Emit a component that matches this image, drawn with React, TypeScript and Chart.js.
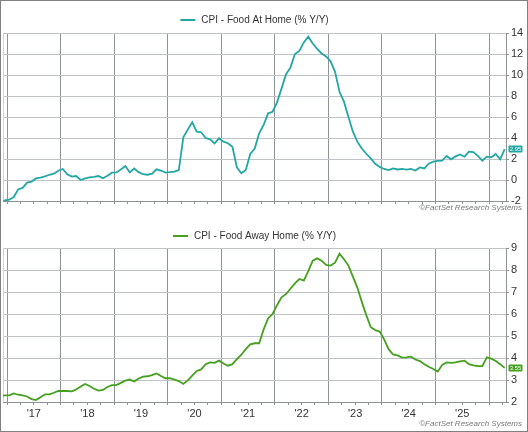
import { useEffect, useRef } from "react";
import Chart from "chart.js/auto";

// monthly series, Nov 2016 .. Apr 2026
const FIRST_YEAR = 2016;
const FIRST_MONTH = 11;

const foodAtHome = [
  -2.1, -1.95, -1.88, -1.62, -0.9, -0.75, -0.25, -0.15, 0.15, 0.22, 0.35, 0.5, 0.6,
  0.88, 1.05, 0.55, 0.32, 0.38, 0.0, 0.16, 0.25, 0.3, 0.38, 0.16, 0.4,
  0.7, 0.72, 1.0, 1.33, 0.73, 1.1, 0.75, 0.55, 0.5, 0.6, 1.02, 0.9,
  0.7, 0.74, 0.8, 0.95, 4.07, 4.8, 5.5, 4.6, 4.55, 4.0, 3.87, 3.49,
  3.97, 3.65, 3.5, 3.17, 1.21, 0.64, 0.95, 2.48, 3.0, 4.45, 5.24, 6.35,
  6.5, 7.4, 8.7, 10.05, 10.7, 12.0, 12.29, 13.1, 13.65, 13.0, 12.48, 12.05,
  11.77, 11.3, 10.3, 8.4, 7.46, 6.0, 4.6, 3.65, 3.0, 2.5, 2.05, 1.55,
  1.25, 1.05, 0.95, 1.1, 1.0, 1.05, 0.98, 1.05, 0.9, 1.2, 1.1, 1.55,
  1.75, 1.82, 1.84, 2.29, 1.97, 2.25, 2.44, 2.22, 2.7, 2.65, 2.3, 1.84,
  2.22, 2.16, 2.48, 1.97, 2.95,
];

const foodAwayHome = [
  2.28, 2.3, 2.3, 2.39, 2.33, 2.3, 2.25, 2.13, 2.09, 2.22, 2.35, 2.35, 2.42,
  2.5, 2.51, 2.5, 2.48, 2.57, 2.7, 2.82, 2.73, 2.6, 2.52, 2.55, 2.68,
  2.77, 2.77, 2.87, 2.97, 3.02, 2.93, 3.07, 3.15, 3.17, 3.22, 3.3, 3.18,
  3.08, 3.08, 3.02, 2.95, 2.82, 2.98, 3.2, 3.41, 3.48, 3.72, 3.8, 3.78,
  3.88, 3.75, 3.65, 3.72, 3.95, 4.15, 4.4, 4.62, 4.67, 4.67, 5.3, 5.8,
  6.0, 6.4, 6.76, 6.9, 7.15, 7.39, 7.59, 7.52, 7.95, 8.42, 8.53, 8.42,
  8.23, 8.2, 8.33, 8.74, 8.49, 8.2, 7.7, 7.2, 6.55, 5.95, 5.4, 5.27,
  5.2, 4.85, 4.4, 4.16, 4.12, 4.02, 4.03, 4.06, 3.93, 3.86, 3.72, 3.6,
  3.5, 3.38, 3.68, 3.8, 3.78, 3.8, 3.85, 3.88, 3.72, 3.66, 3.63, 3.63,
  4.03, 3.97, 3.86, 3.72, 3.55,
];

const yearLabels = ["'17", "'18", "'19", "'20", "'21", "'22", "'23", "'24", "'25"];
const topTicks = [-2, 0, 2, 4, 6, 8, 10, 12, 14];
const bottomTicks = [2, 3, 4, 5, 6, 7, 8, 9];

const TEAL = "#23a7a4";
const GREEN = "#44a01e";
const FONT = "'Liberation Sans', Arial, sans-serif";
const VGRID = "#8e9398";
const HGRID = "#c0c4c8";

// mid-month position in fractional years
const monthX = (i: number) => {
  const m = FIRST_MONTH - 1 + i;
  return FIRST_YEAR + Math.floor(m / 12) + ((m % 12) + 0.5) / 12;
};

const decor = (title: string, color: string, last: number) => ({
  id: "decor",
  beforeDatasetsDraw(chart: any) {
    const { ctx, chartArea: a } = chart;
    ctx.save();
    ctx.strokeStyle = "#d4d6d8";
    ctx.lineWidth = 1;
    ctx.beginPath();
    ctx.moveTo(a.left + 0.5, a.top);
    ctx.lineTo(a.left + 0.5, a.bottom);
    ctx.stroke();
    ctx.restore();
  },
  afterDraw(chart: any) {
    const { ctx, chartArea: a } = chart;
    ctx.save();
    // legend line + title
    ctx.font = `10px ${FONT}`;
    const tw = ctx.measureText(title).width;
    const x0 = (a.left + a.right) / 2 - (21 + tw) / 2;
    ctx.strokeStyle = color;
    ctx.lineWidth = 2;
    ctx.beginPath();
    ctx.moveTo(x0, 20);
    ctx.lineTo(x0 + 15, 20);
    ctx.stroke();
    ctx.fillStyle = "#333";
    ctx.textAlign = "left";
    ctx.textBaseline = "middle";
    ctx.fillText(title, x0 + 21, 20.5);
    // credit
    ctx.font = `italic 8px ${FONT}`;
    ctx.fillStyle = "#7a7a7a";
    ctx.textAlign = "right";
    ctx.fillText("©FactSet Research Systems", 522, chart.height - 8);
    // last value tag
    const y = chart.scales.y.getPixelForValue(last);
    ctx.fillStyle = color;
    ctx.beginPath();
    ctx.roundRect(508.5, y - 3.5, 14, 7, 1);
    ctx.fill();
    ctx.fillStyle = "#fff";
    ctx.font = `6px ${FONT}`;
    ctx.textAlign = "center";
    ctx.fillText(last.toFixed(2), 515.5, y + 0.5);
    ctx.restore();
  },
});

type PanelProps = {
  top: number;
  title: string;
  values: number[];
  color: string;
  yTicks: number[];
  showYears: boolean;
};

const Panel = ({ top, title, values, color, yTicks, showYears }: PanelProps) => {
  const canvasRef = useRef<HTMLCanvasElement>(null);

  useEffect(() => {
    if (!canvasRef.current) return;
    const last = values[values.length - 1];
    const quarterTicks: number[] = [];
    for (let q = 2017; q < 2026.3; q += 0.25) quarterTicks.push(q);

    const chart = new Chart(canvasRef.current, {
      type: "line",
      data: {
        datasets: [
          {
            data: values.map((v, i) => ({ x: monthX(i), y: v })),
            borderColor: color,
            backgroundColor: color,
            borderWidth: 1.8,
            pointRadius: 0,
            tension: 0,
            clip: 0,
          },
        ],
      },
      options: {
        responsive: false,
        animation: false,
        events: [],
        layout: { padding: { top: top === 0 ? 33 : 32, left: 3, right: 0, bottom: 0 } },
        plugins: { legend: { display: false }, tooltip: { enabled: false } },
        scales: {
          x: {
            type: "linear",
            min: 2016.925,
            max: 2026.317,
            afterBuildTicks: (axis: any) => {
              axis.ticks = quarterTicks.map((v) => ({ value: v }));
            },
            afterFit: (axis: any) => {
              axis.height = showYears ? 30 : 15;
            },
            grid: {
              color: (c: any) =>
                c.tick && Number.isInteger(c.tick.value) ? VGRID : "rgba(0,0,0,0)",
              tickColor: VGRID,
              tickLength: 3,
              lineWidth: 1,
            },
            border: { display: true, color: VGRID },
            ticks: {
              display: showYears,
              autoSkip: false,
              maxRotation: 0,
              padding: 2,
              color: "#333",
              font: { family: FONT, size: 11 },
              callback: (v: any) => {
                const val = Number(v);
                if (val - Math.floor(val) !== 0.5) return "";
                return yearLabels[Math.floor(val) - 2017] ?? "";
              },
            },
          },
          y: {
            position: "right",
            min: yTicks[0],
            max: yTicks[yTicks.length - 1],
            afterBuildTicks: (axis: any) => {
              axis.ticks = yTicks.map((v) => ({ value: v }));
            },
            afterFit: (axis: any) => {
              axis.width = 22;
            },
            grid: { color: HGRID, tickColor: VGRID, tickLength: 3 },
            border: { display: true, color: VGRID },
            ticks: {
              padding: 2,
              color: "#333",
              font: { family: FONT, size: 11 },
            },
          },
        },
      },
      plugins: [decor(title, color, last)],
    });

    return () => chart.destroy();
  }, [values, color, yTicks, showYears, title, top]);

  return (
    <canvas
      ref={canvasRef}
      width={528}
      height={216}
      style={{ position: "absolute", left: 0, top, width: 528, height: 216, display: "block" }}
    />
  );
};

const App = () => {
  return (
    <div
      style={{
        position: "fixed",
        left: 0,
        top: 0,
        width: 528,
        height: 432,
        background: "#fff",
      }}
    >
      <Panel
        top={0}
        title="CPI - Food At Home (% Y/Y)"
        values={foodAtHome}
        color={TEAL}
        yTicks={topTicks}
        showYears={false}
      />
      <Panel
        top={216}
        title="CPI - Food Away Home (% Y/Y)"
        values={foodAwayHome}
        color={GREEN}
        yTicks={bottomTicks}
        showYears={true}
      />
      <div
        style={{
          position: "absolute",
          inset: 0,
          border: "1px solid #808080",
          pointerEvents: "none",
        }}
      />
    </div>
  );
};

export default App;
